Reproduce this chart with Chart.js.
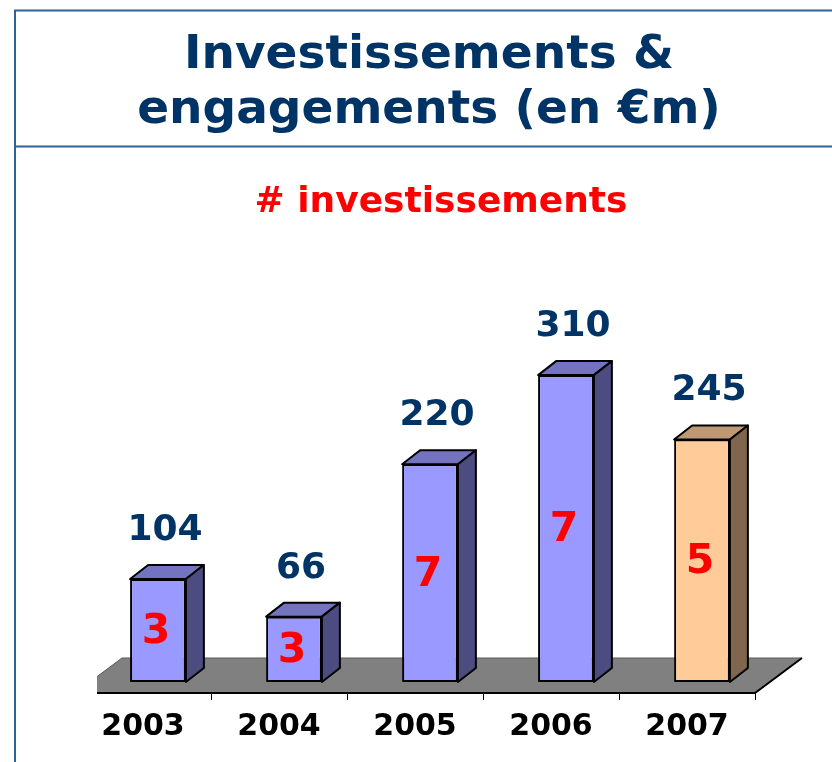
<!DOCTYPE html>
<html>
<head>
<meta charset="utf-8">
<script src="https://cdn.jsdelivr.net/npm/chart.js@4/dist/chart.umd.min.js"></script>
<style>
  html, body { margin: 0; padding: 0; background: #fff; }
  canvas { display: block; }
</style>
</head>
<body>
<canvas id="chart" width="832" height="762"></canvas>
<script>
// Investment amounts (€m) and number of deals per year
const years = ['2003', '2004', '2005', '2006', '2007'];
const amounts = [104, 66, 220, 310, 245];
const counts = [3, 3, 7, 7, 5];

const titleLines = ['Investissements &', 'engagements (en €m)'];
const subtitleText = '# investissements';

// Face colours: front / top / side for each column
const frontColors = ['#9999FF', '#9999FF', '#9999FF', '#9999FF', '#FFCC99'];
const topColors   = ['#7373BF', '#7373BF', '#7373BF', '#7373BF', '#BF9973'];
const sideColors  = ['#4C4C80', '#4C4C80', '#4C4C80', '#4C4C80', '#80664C'];

const NAVY = '#003366';
const FONT = '"DejaVu Sans", Verdana, sans-serif';

// 3D depth offsets (pixels)
const BAR_DEPTH = { dx: 18, dy: -14 };
const FLOOR_FRONT = { dx: -15, dy: 11 };
const FLOOR_BACK = { dx: 32, dy: -24 };

// Frame lines and headings
const headingPlugin = {
  id: 'heading',
  beforeDraw(chart) {
    const ctx = chart.ctx;
    ctx.save();
    ctx.strokeStyle = '#32609A';
    ctx.lineWidth = 2;
    ctx.beginPath();
    ctx.moveTo(15, 762); ctx.lineTo(15, 10.5); ctx.lineTo(832, 10.5);
    ctx.moveTo(15, 146.5); ctx.lineTo(832, 146.5);
    ctx.stroke();

    ctx.fillStyle = NAVY;
    ctx.textAlign = 'center';
    ctx.textBaseline = 'alphabetic';
    ctx.font = 'bold 47px ' + FONT;
    ctx.fillText(titleLines[0], 429, 68);
    ctx.fillText(titleLines[1], 429, 123);

    ctx.fillStyle = '#FF0000';
    ctx.font = 'bold 36px ' + FONT;
    ctx.fillText(subtitleText, 441, 212);
    ctx.restore();
  }
};

function poly(ctx, pts, fill) {
  ctx.beginPath();
  ctx.moveTo(pts[0][0], pts[0][1]);
  for (let i = 1; i < pts.length; i++) ctx.lineTo(pts[i][0], pts[i][1]);
  ctx.closePath();
  ctx.fillStyle = fill;
  ctx.fill();
  ctx.stroke();
}

// Floor, tick marks and the top/side faces of each column
const depthPlugin = {
  id: 'depth',
  beforeDatasetsDraw(chart) {
    const ctx = chart.ctx;
    const area = chart.chartArea;
    const yBase = chart.scales.y.getPixelForValue(0);
    ctx.save();

    // floor slab, clipped on the left
    ctx.save();
    ctx.beginPath();
    ctx.rect(area.left + 7, 0, chart.width, chart.height);
    ctx.clip();
    const fl = [area.left + FLOOR_FRONT.dx, yBase + FLOOR_FRONT.dy];
    const fr = [area.right + FLOOR_FRONT.dx, yBase + FLOOR_FRONT.dy];
    const br = [area.right + FLOOR_BACK.dx, yBase + FLOOR_BACK.dy];
    const bl = [area.left + FLOOR_BACK.dx, yBase + FLOOR_BACK.dy];
    ctx.strokeStyle = '#5A5A5A';
    ctx.lineWidth = 1;
    poly(ctx, [fl, fr, br, bl], '#808080');
    ctx.strokeStyle = '#000';
    ctx.lineWidth = 2;
    ctx.beginPath();
    ctx.moveTo(fl[0], fl[1]); ctx.lineTo(fr[0], fr[1]); ctx.lineTo(br[0], br[1]);
    ctx.stroke();
    // category tick marks on the front edge
    ctx.lineWidth = 1;
    ctx.beginPath();
    const step = (area.right - area.left) / years.length;
    for (let k = 0; k <= years.length; k++) {
      const x = Math.round(area.left + FLOOR_FRONT.dx + k * step) + 0.5;
      ctx.moveTo(x, fl[1]); ctx.lineTo(x, fl[1] + 7);
    }
    ctx.stroke();
    ctx.restore();

    // column top and side faces
    const meta = chart.getDatasetMeta(0);
    ctx.strokeStyle = '#000';
    ctx.lineWidth = 2;
    ctx.lineJoin = 'round';
    meta.data.forEach((bar, i) => {
      const p = bar.getProps(['x', 'y', 'base', 'width'], true);
      const xl = p.x - p.width / 2, xr = p.x + p.width / 2;
      const { dx, dy } = BAR_DEPTH;
      poly(ctx, [[xl, p.y], [xr, p.y], [xr + dx, p.y + dy], [xl + dx, p.y + dy]], topColors[i]);
      poly(ctx, [[xr, p.y], [xr + dx, p.y + dy], [xr + dx, p.base + dy], [xr, p.base]], sideColors[i]);
    });
    ctx.restore();
  },
  afterDatasetsDraw(chart) {
    const ctx = chart.ctx;
    const meta = chart.getDatasetMeta(0);
    ctx.save();
    ctx.textAlign = 'center';
    meta.data.forEach((bar, i) => {
      const p = bar.getProps(['x', 'y', 'base'], true);
      // amount above the column
      ctx.fillStyle = NAVY;
      ctx.font = 'bold 36px ' + FONT;
      ctx.textBaseline = 'alphabetic';
      ctx.fillText(String(amounts[i]), p.x + 7, p.y - 39);
      // deal count inside the column
      ctx.fillStyle = '#FF0000';
      ctx.font = 'bold 41px ' + FONT;
      ctx.textBaseline = 'middle';
      ctx.fillText(String(counts[i]), p.x - 2, (p.y + p.base) / 2 + 2);
    });
    ctx.restore();
  }
};

new Chart(document.getElementById('chart'), {
  type: 'bar',
  data: {
    labels: years,
    datasets: [{
      data: amounts,
      backgroundColor: frontColors,
      borderColor: '#000',
      borderWidth: 2,
      borderSkipped: false,
      barPercentage: 0.41,
      categoryPercentage: 1
    }]
  },
  options: {
    responsive: false,
    animation: false,
    layout: { padding: { left: 90, right: 62, top: 286, bottom: 0 } },
    plugins: { legend: { display: false }, tooltip: { enabled: false } },
    scales: {
      x: {
        grid: { display: false, drawTicks: false },
        border: { display: false },
        ticks: {
          color: '#000',
          font: { family: FONT, size: 30, weight: 'bold' },
          labelOffset: -15,
          padding: 27,
          maxRotation: 0
        },
        afterFit(scale) { scale.height = 80; }
      },
      y: { display: false, min: 0, max: 400 }
    }
  },
  plugins: [headingPlugin, depthPlugin]
});
</script>
</body>
</html>
